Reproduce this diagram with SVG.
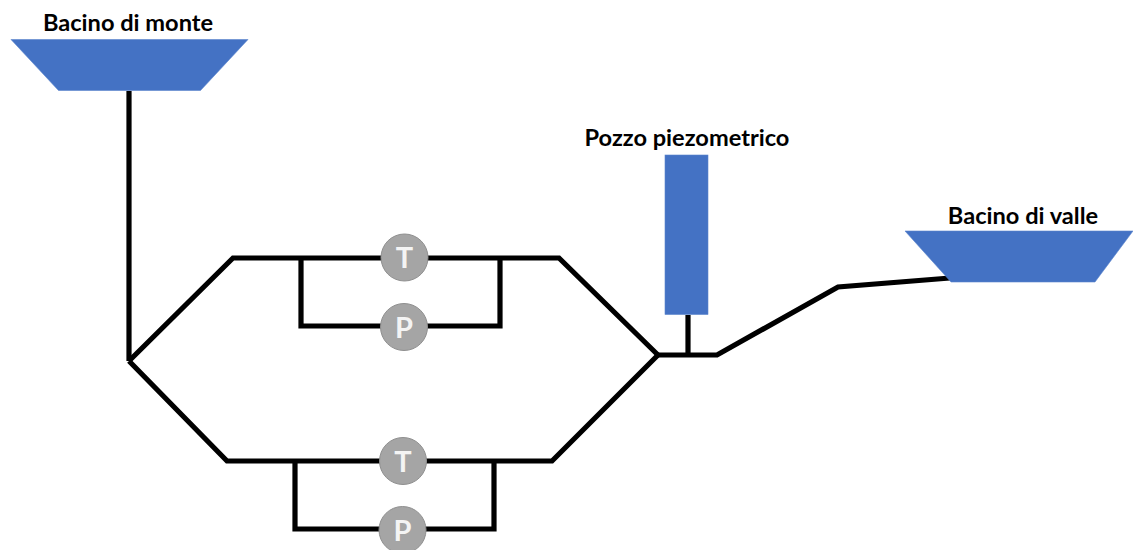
<svg xmlns="http://www.w3.org/2000/svg" width="1133" height="550" viewBox="0 0 1133 550">
<style>
.basin{fill:#4472c4;stroke:#5b84cc;stroke-width:.6}
.pipe{fill:none;stroke:#000;stroke-width:5.200;stroke-linejoin:miter}
.m{fill:#a5a5a5;stroke:#8f8f8f;stroke-width:1}
.ml{font-family:"Lato","Open Sans",sans-serif;font-weight:700;font-size:29px;fill:#f4f4f4;text-anchor:middle}
.lbl{font-family:"Lato","Open Sans",sans-serif;font-weight:700;font-size:23.600px;fill:#000;text-anchor:middle}
</style>
<rect width="1133" height="550" fill="#fff"/>
<g id="connectors">
<path class="pipe" d="M129 91V361"/>
<path class="pipe" d="M129 361L233 258H559L658 355"/>
<path class="pipe" d="M129 361L227 461H552L658 355"/>
<path class="pipe" d="M301 258V326H500V258"/>
<path class="pipe" d="M295 461V529H494V461"/>
<path class="pipe" d="M658 355H717L838 287L950 278"/>
<path class="pipe" d="M688 315V355"/>
</g>
<g id="bacino-monte">
<polygon class="basin" points="11,39.5 248,39.5 200.500,90.500 58.500,90.500"/>
<text class="lbl" x="128" y="31">Bacino di monte</text>
</g>
<g id="pozzo">
<rect class="basin" x="665" y="155" width="43" height="159.500"/>
<text class="lbl" x="687" y="146">Pozzo piezometrico</text>
</g>
<g id="bacino-valle">
<polygon class="basin" points="905,231 1133,231 1095,282 951,282"/>
<text class="lbl" x="1023" y="224">Bacino di valle</text>
</g>
<g id="turbina-1">
<circle class="m" cx="404.500" cy="257.500" r="23.500"/>
<text class="ml" x="404.500" y="268">T</text>
</g>
<g id="pompa-1">
<circle class="m" cx="404" cy="327" r="23.500"/>
<text class="ml" x="404" y="337.500">P</text>
</g>
<g id="turbina-2">
<circle class="m" cx="403" cy="461" r="23.500"/>
<text class="ml" x="403" y="471.500">T</text>
</g>
<g id="pompa-2">
<circle class="m" cx="402.500" cy="530" r="23.500"/>
<text class="ml" x="402.500" y="540.500">P</text>
</g>
</svg>
